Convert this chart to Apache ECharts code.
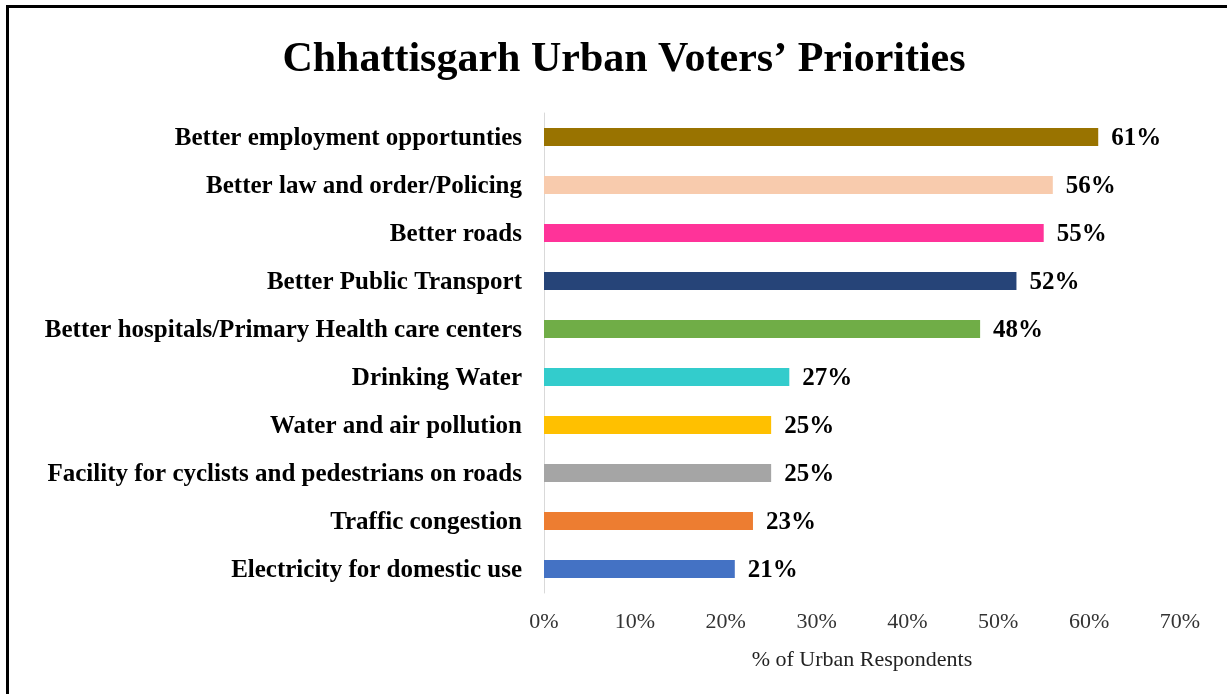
<!DOCTYPE html>
<html>
<head>
<meta charset="utf-8">
<script src="https://cdn.jsdelivr.net/npm/echarts@6/dist/echarts.min.js"></script>
<style>
html,body{margin:0;padding:0;background:#fff;}
#frame{position:absolute;left:6px;top:5px;width:1240px;height:720px;border-left:3px solid #000;border-top:3px solid #000;box-sizing:border-box;}
#chart{position:absolute;left:0;top:0;width:1227px;height:694px;}
</style>
</head>
<body>
<div id="frame"></div>
<div id="chart"></div>
<script>
var categories = [
  "Better employment opportunties",
  "Better law and order/Policing",
  "Better roads",
  "Better Public Transport",
  "Better hospitals/Primary Health care centers",
  "Drinking Water",
  "Water and air pollution",
  "Facility for cyclists and pedestrians on roads",
  "Traffic congestion",
  "Electricity for domestic use"
];
var values = [61, 56, 55, 52, 48, 27, 25, 25, 23, 21];
var barColors = ["#997300", "#F8CBAD", "#FF3399", "#264478", "#70AD47", "#33CCCC", "#FFC000", "#A5A5A5", "#ED7D31", "#4472C4"];
var xTicks = [0, 10, 20, 30, 40, 50, 60, 70];

var serif = "'Liberation Serif', 'Times New Roman', serif";
var chart = echarts.init(document.getElementById('chart'), null, {renderer: 'canvas'});
chart.setOption({
  backgroundColor: 'transparent',
  animation: false,
  title: {
    text: "Chhattisgarh Urban Voters\u2019 Priorities",
    left: 619, top: 34, textAlign: 'center',
    textStyle: {fontFamily: serif, fontWeight: 'bold', fontSize: 42, color: '#000'}
  },
  grid: {left: 544, right: 47, top: 113, bottom: 101, containLabel: false},
  xAxis: {
    type: 'value', min: xTicks[0], max: xTicks[xTicks.length - 1], interval: 10,
    name: '% of Urban Respondents', nameLocation: 'middle', nameGap: 56,
    nameTextStyle: {fontFamily: serif, fontSize: 22, color: '#222'},
    axisLine: {show: false}, axisTick: {show: false}, splitLine: {show: false},
    axisLabel: {fontFamily: serif, fontSize: 22, color: '#333', margin: 18, formatter: '{value}%'}
  },
  yAxis: {
    type: 'category', data: categories, inverse: true,
    axisLine: {show: true, lineStyle: {color: '#D9D9D9', width: 1}},
    axisTick: {show: false},
    axisLabel: {
      margin: 22,
      formatter: function (v) { return '{c|' + v + '}'; },
      rich: {c: {fontFamily: serif, fontWeight: 'bold', fontSize: 25, color: '#000', padding: [4, 0, 0, 0]}}
    }
  },
  series: [{
    type: 'bar', data: values.map(function (v, i) { return {value: v, itemStyle: {color: barColors[i]}}; }),
    barWidth: 18,
    label: {show: true, position: 'right', distance: 13, offset: [0, 2], formatter: '{c}%',
      fontFamily: serif, fontWeight: 'bold', fontSize: 25, color: '#000'}
  }]
});
</script>
</body>
</html>
